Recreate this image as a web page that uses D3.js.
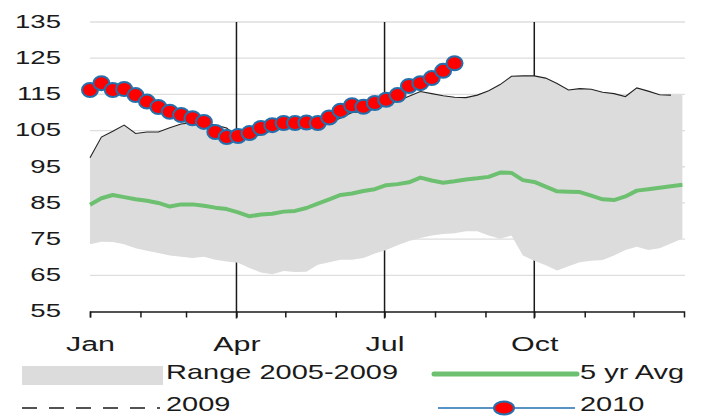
<!DOCTYPE html>
<html>
<head>
<meta charset="utf-8">
<script src="https://cdn.jsdelivr.net/npm/d3@7"></script>
<style>
  body { margin: 0; background: #fff; }
  text { font-family: "Liberation Sans", Arial, sans-serif; fill: #1a1a1a; }
</style>
</head>
<body>
<div class="chart"></div>
<script>
var svgWidth = 710;
var svgHeight = 416;

// weekly values, week 0 = Jan 1
var rangeMin = [73.6, 74.3, 74.2, 73.6, 72.5, 71.8, 71.2, 70.5, 70.1, 69.8, 70.1, 69.3, 68.8, 68.5, 67, 65.8, 65.3, 66.2, 65.9, 66, 67.9, 68.6, 69.3, 69.3, 69.8, 71, 72, 73.3, 74.5, 75.3, 76, 76.4, 76.6, 77.2, 77.2, 76, 75.1, 76, 70.5, 69, 67.8, 66.3, 67.5, 68.6, 69, 69.2, 70.5, 72, 72.9, 72, 72.5, 73.8, 75.2];
var rangeMax = [97.5, 103.2, 104.8, 106.5, 104.2, 104.6, 104.6, 105.8, 106.8, 107.2, 107, 106.5, 105.7, 103, 102.8, 104, 105, 105.5, 105.6, 105.7, 105.8, 107, 108.5, 110, 110.2, 111, 112, 113.2, 114.5, 115.8, 115.2, 114.6, 114.2, 114.1, 114.8, 116, 117.7, 120, 120.1, 120.1, 119.5, 118, 116.2, 116.6, 116.4, 115.6, 115.2, 114.4, 116.8, 115.9, 114.9, 114.8, 115];
var avg5yr = [84.5, 86.3, 87.2, 86.6, 86, 85.6, 85, 84, 84.6, 84.6, 84.2, 83.7, 83.3, 82.4, 81.3, 81.8, 82, 82.6, 82.8, 83.6, 84.8, 86, 87.2, 87.6, 88.3, 88.8, 89.9, 90.2, 90.7, 92, 91.2, 90.6, 91, 91.5, 91.8, 92.2, 93.4, 93.3, 91.3, 90.8, 89.5, 88.2, 88.1, 88, 87, 86, 85.8, 86.8, 88.4, 88.8, 89.2, 89.6, 90];
var y2009 = [97.5, 103.2, 104.8, 106.5, 104.2, 104.6, 104.6, 105.8, 106.8, 107.2, 107, 106.5, 105.7, 103, 102.8, 104, 105, 105.5, 105.6, 105.7, 105.8, 107, 108.5, 110, 110.2, 111, 112, 113.2, 114.5, 115.8, 115.2, 114.6, 114.2, 114.1, 114.8, 116, 117.7, 120, 120.1, 120.1, 119.5, 118, 116.2, 116.6, 116.4, 115.6, 115.2, 114.4, 116.8, 115.9, 114.9, 114.8];
var y2010 = [116.2, 118.1, 116.2, 116.5, 114.8, 113, 111.5, 110.2, 109.3, 108.4, 107.4, 104.6, 103.2, 103.5, 104.3, 105.7, 106.5, 107.1, 107.1, 107.2, 107.1, 108.6, 110.5, 112, 111.6, 112.6, 113.5, 114.8, 117.3, 118.1, 119.5, 121.5, 123.6];

var yTicks = [55, 65, 75, 85, 95, 105, 115, 125, 135];
var monthLabels = { 0: "Jan", 3: "Apr", 6: "Jul", 9: "Oct" };
var quarterLines = [3, 6, 9];

var stretch = 1.45;

function weekDate(i) {
  return d3.timeDay.offset(new Date(2010, 0, 1), 7 * i);
}

var svg = d3.select(".chart").append("svg")
  .attr("width", svgWidth)
  .attr("height", svgHeight);

var x = d3.scaleTime()
  .domain([new Date(2010, 0, 1), new Date(2011, 0, 1)])
  .range([90, 684]);

var y = d3.scaleLinear()
  .domain([55, 135])
  .range([311.5, 22]);

// horizontal gridlines
svg.append("g").selectAll("line")
  .data(yTicks.slice(1))
  .enter().append("line")
  .attr("x1", 90).attr("x2", 685)
  .attr("y1", d => y(d)).attr("y2", d => y(d))
  .attr("stroke", "#dedede")
  .attr("stroke-width", 1.3);

// quarter lines
svg.append("g").selectAll("line")
  .data(quarterLines)
  .enter().append("line")
  .attr("x1", d => x(new Date(2010, d, 1)))
  .attr("x2", d => x(new Date(2010, d, 1)))
  .attr("y1", y(135)).attr("y2", y(55) + 7)
  .attr("stroke", "#1a1a1a")
  .attr("stroke-width", 1.5);

// range band
var band = d3.area()
  .x((d, i) => x(weekDate(i)))
  .y0(d => y(d[0]))
  .y1(d => y(d[1]));

svg.append("path")
  .datum(rangeMin.map((d, i) => [d, rangeMax[i]]))
  .attr("d", band)
  .attr("fill", "#dcdcdc");

// x axis, one tick per month of 2010
var xAxis = d3.axisBottom(x)
  .tickValues(d3.range(12).map(m => new Date(2010, m, 1)))
  .tickSize(6)
  .tickFormat(d => monthLabels[d.getMonth()] || "");

var xg = svg.append("g")
  .attr("transform", `translate(0, ${y(55)})`)
  .call(xAxis);
xg.select(".domain").attr("stroke", "#1a1a1a").attr("stroke-width", 1.5);
xg.selectAll(".tick line").attr("stroke", "#1a1a1a").attr("stroke-width", 1.5);
xg.selectAll(".tick text")
  .attr("y", 0).attr("dy", 0)
  .attr("transform", `translate(0, 39) scale(${stretch}, 1)`)
  .style("font-size", "21px")
  .style("font-family", "'Liberation Sans', Arial, sans-serif")
  .attr("fill", "#1a1a1a");

// y axis labels
var yg = svg.append("g")
  .attr("transform", "translate(61, 0)")
  .call(d3.axisLeft(y).tickValues(yTicks).tickSize(0).tickPadding(0));
yg.select(".domain").remove();
yg.selectAll(".tick text")
  .attr("x", 0).attr("dy", "0.28em")
  .attr("transform", `scale(${stretch}, 1)`)
  .style("font-size", "19px")
  .style("font-family", "'Liberation Sans', Arial, sans-serif")
  .attr("fill", "#1a1a1a");

// 5 yr avg
var line = d3.line()
  .x((d, i) => x(weekDate(i)))
  .y(d => y(d));

svg.append("path")
  .datum(avg5yr)
  .attr("d", line)
  .attr("fill", "none")
  .attr("stroke", "#6cc070")
  .attr("stroke-width", 4)
  .attr("stroke-linejoin", "round");

// 2009
svg.append("path")
  .datum(y2009)
  .attr("d", line)
  .attr("fill", "none")
  .attr("stroke", "#222")
  .attr("stroke-width", 1.1);

// 2010
svg.append("path")
  .datum(y2010)
  .attr("d", line)
  .attr("fill", "none")
  .attr("stroke", "#1f6fb2")
  .attr("stroke-width", 1.5);

svg.append("g").selectAll("ellipse")
  .data(y2010)
  .enter().append("ellipse")
  .attr("cx", (d, i) => x(weekDate(i)))
  .attr("cy", d => y(d))
  .attr("rx", 8).attr("ry", 7)
  .attr("fill", "#ff0000")
  .attr("stroke", "#2370ad")
  .attr("stroke-width", 2);

// legend
var legend = svg.append("g");

legend.append("rect")
  .attr("x", 22).attr("y", 366)
  .attr("width", 141).attr("height", 19)
  .attr("fill", "#dcdcdc");

legend.append("line")
  .attr("x1", 434).attr("x2", 577)
  .attr("y1", 374).attr("y2", 374)
  .attr("stroke", "#6cc070").attr("stroke-width", 5)
  .attr("stroke-linecap", "round");

legend.append("line")
  .attr("x1", 22).attr("x2", 160)
  .attr("y1", 408).attr("y2", 408)
  .attr("stroke", "#1a1a1a").attr("stroke-width", 1.5)
  .attr("stroke-dasharray", "15,12");

legend.append("line")
  .attr("x1", 438).attr("x2", 575)
  .attr("y1", 408).attr("y2", 408)
  .attr("stroke", "#1f6fb2").attr("stroke-width", 1.5);

legend.append("ellipse")
  .attr("cx", 504).attr("cy", 408)
  .attr("rx", 10).attr("ry", 6.5)
  .attr("fill", "#ff0000")
  .attr("stroke", "#2370ad").attr("stroke-width", 2);

var legendTexts = [
  { label: "Range 2005-2009", x: 166, y: 379 },
  { label: "5 yr Avg", x: 580, y: 379 },
  { label: "2009", x: 166, y: 411 },
  { label: "2010", x: 580, y: 411 }
];

legend.selectAll("text")
  .data(legendTexts)
  .enter().append("text")
  .attr("transform", d => `translate(${d.x}, ${d.y}) scale(${stretch}, 1)`)
  .style("font-size", "20px")
  .text(d => d.label);
</script>
</body>
</html>
